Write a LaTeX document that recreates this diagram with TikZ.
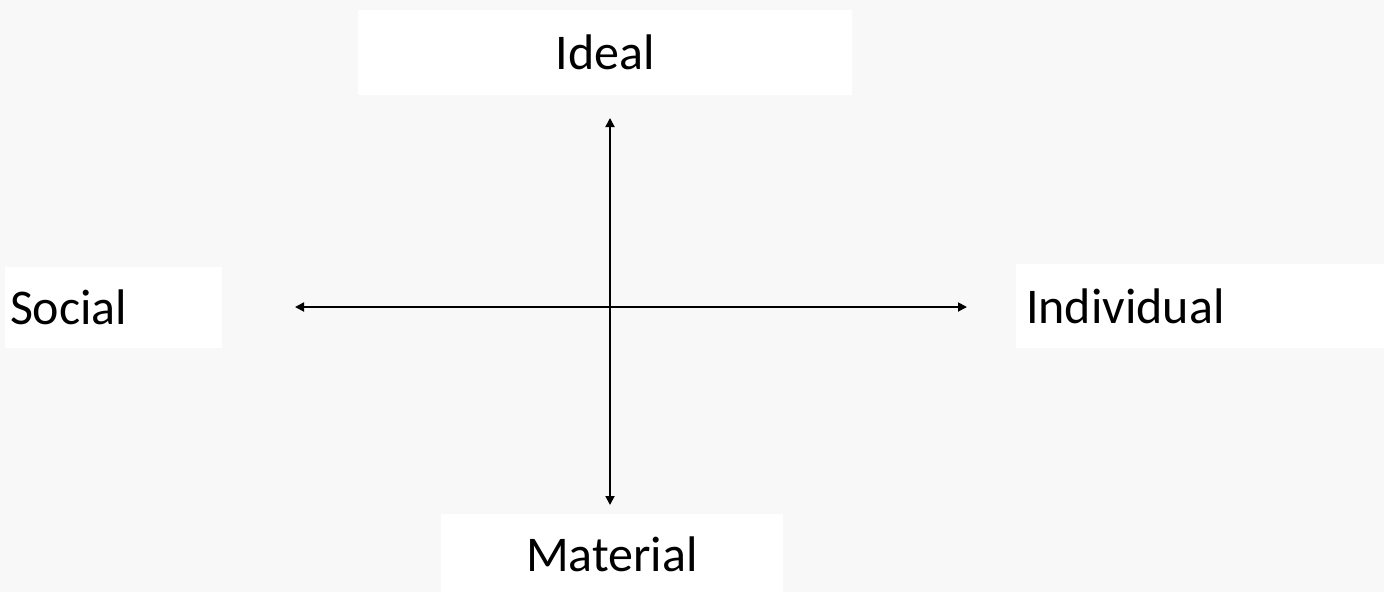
\documentclass[tikz,border=0pt]{standalone}
\usepackage{fontspec}
\setmainfont{Carlito}
\usetikzlibrary{arrows.meta}
\definecolor{bg}{RGB}{248,248,248}
\begin{document}
\begin{tikzpicture}[x=1pt,y=-1pt,
  box/.style={fill=white, inner sep=0pt, font=\fontsize{50}{60}\selectfont},
  axis/.style={{Triangle[length=9pt,width=9pt]}-{Triangle[length=9pt,width=9pt]}, line width=1.8pt}]
\fill[bg] (0,0) rectangle (1384,592);
\useasboundingbox (0,0) rectangle (1384,592);
\node[box, minimum width=494pt, minimum height=85pt] (ideal) at (605,52.5) {Ideal};
\node[box, minimum width=217pt, minimum height=81pt, text width=207pt, align=left] (social) at (113.5,307.5) {Social};
\node[box, minimum width=368pt, minimum height=84pt, text width=348pt, align=left] (indiv) at (1200,306) {Individual};
\node[box, minimum width=342pt, minimum height=80pt] (mat) at (612,554) {Material};
\coordinate (top) at (610,118);
\coordinate (bot) at (610,505);
\coordinate (lft) at (295,307);
\coordinate (rgt) at (967,307);
\draw[axis] (bot) -- (top);
\draw[axis] (lft) -- (rgt);
\end{tikzpicture}
\end{document}
